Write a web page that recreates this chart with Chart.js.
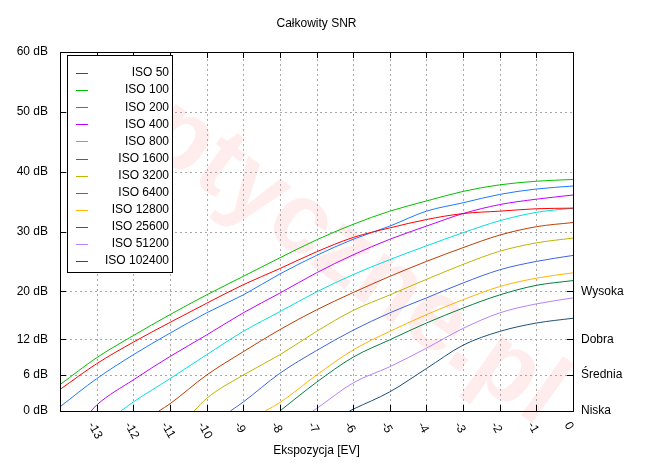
<!DOCTYPE html>
<html><head><meta charset="utf-8">
<script src="https://cdn.jsdelivr.net/npm/chart.js@4"></script>
<style>html,body{margin:0;padding:0;background:#fff}#w{width:670px;height:463px}</style>
</head><body><div id="w"><canvas id="c"></canvas></div>
<script>
const xs = [-14,-13,-12,-11,-10,-9,-8,-7,-6,-5,-4,-3,-2,-1,0];
const labels = ['ISO 50','ISO 100','ISO 200','ISO 400','ISO 800','ISO 1600','ISO 3200','ISO 6400','ISO 12800','ISO 25600','ISO 51200','ISO 102400'];
const colors = ['#ff0000','#00c000','#1e78ff','#c000ff','#00e0e0','#c03c00','#c0b400','#3c64e6','#ffb400','#008040','#b482ff','#1e5078'];
const starts = [null,null,null,-13.15,-12.34,-11.3,-10.34,-9.35,-8.4,-8.0,-7.1,-6.1];
const iso50    = [3.6,7.9,11.5,14.8,18.0,21.1,23.8,26.6,29.0,30.6,32.0,33.0,33.4,33.8,33.9];
const iso100   = [4.4,8.9,12.6,16.1,19.4,22.5,25.6,28.6,31.2,33.4,35.1,36.7,37.8,38.4,38.7];
const iso200   = [0.7,5.4,9.4,13.0,16.4,19.4,22.9,26.0,28.7,30.9,33.4,34.8,36.2,37.1,37.6];
const iso400   = [null,1.0,5.2,9.1,12.7,16.4,19.7,23.1,26.1,28.7,30.9,33.0,34.5,35.4,36.1];
const iso800   = [null,null,1.5,5.4,9.4,13.3,16.6,19.9,22.8,25.3,27.6,29.8,31.8,33.2,33.9];
const iso1600  = [null,null,null,1.2,6.0,9.9,13.6,16.9,19.8,22.5,25.0,27.3,29.4,30.8,31.5];
const iso3200  = [null,null,null,null,2.1,6.0,9.4,13.3,16.8,19.4,22.0,24.5,26.7,28.1,28.9];
const iso6400  = [null,null,null,null,null,1.5,6.3,10.1,13.5,16.4,18.9,21.4,23.6,25.0,26.0];
const iso12800 = [null,null,null,null,null,null,1.4,6.0,10.2,13.3,16.1,18.6,20.8,22.2,23.1];
const iso25600 = [null,null,null,null,null,null,0.0,4.8,9.0,11.9,14.7,17.2,19.4,21.0,21.8];
const iso51200 = [null,null,null,null,null,null,null,0.4,4.7,7.4,10.5,13.8,16.4,17.9,18.9];
const iso102400= [null,null,null,null,null,null,null,null,0.3,3.2,7.1,11.0,13.3,14.7,15.5];
const series = [iso50,iso100,iso200,iso400,iso800,iso1600,iso3200,iso6400,iso12800,iso25600,iso51200,iso102400];
const yTicks = [0,6,12,20,30,40,50,60];
const rightTicks = {0:'Niska',6:'Średnia',12:'Dobra',20:'Wysoka'};
const xTicks = [-13,-12,-11,-10,-9,-8,-7,-6,-5,-4,-3,-2,-1,0];
const FONT = '"Liberation Sans", Arial, sans-serif';

const datasets = series.map((vals,i)=>{
  const pts = [];
  if (starts[i] !== null) pts.push({x:starts[i], y:0});
  vals.forEach((v,j)=>{ if (v!==null && !(starts[i]!==null && xs[j]<=starts[i])) pts.push({x:xs[j], y:v}); });
  return {label:labels[i], data:pts, borderColor:colors[i], borderWidth:1, pointRadius:0, cubicInterpolationMode:'monotone', fill:false};
});

const deco = {
  id:'deco',
  beforeDatasetsDraw(ch){
    const c=ch.ctx, a=ch.chartArea, x=ch.scales.x, y=ch.scales.y;
    c.save(); c.translate(330,245); c.rotate(0.62);
    c.font='bold 100px '+FONT; c.fillStyle='rgba(255,0,0,0.07)'; c.textAlign='center'; c.textBaseline='middle';
    c.fillText('optyczne.pl',0,0); c.restore();
    c.save(); c.strokeStyle='#a8a8a8'; c.lineWidth=1; c.setLineDash([2,3]);
    c.beginPath();
    xTicks.forEach(t=>{const p=Math.round(x.getPixelForValue(t))+0.5; c.moveTo(p,a.bottom); c.lineTo(p,a.top);});
    yTicks.forEach(t=>{const p=Math.round(y.getPixelForValue(t))+0.5; c.moveTo(a.left,p); c.lineTo(a.right,p);});
    c.stroke(); c.restore();
  },
  afterDraw(ch){
    const c=ch.ctx, a=ch.chartArea, x=ch.scales.x, y=ch.scales.y;
    c.save();
    c.strokeStyle='#000'; c.lineWidth=1;
    c.strokeRect(Math.round(a.left)+0.5,Math.round(a.top)+0.5,Math.round(a.right-a.left),Math.round(a.bottom-a.top));
    c.beginPath();
    xTicks.forEach(t=>{const p=Math.round(x.getPixelForValue(t))+0.5; c.moveTo(p,a.bottom); c.lineTo(p,a.bottom-6); c.moveTo(p,a.top); c.lineTo(p,a.top+6);});
    yTicks.forEach(t=>{const p=Math.round(y.getPixelForValue(t))+0.5; c.moveTo(a.left,p); c.lineTo(a.left+6,p);});
    [0,6,12,20].forEach(t=>{const p=Math.round(y.getPixelForValue(t))+0.5; c.moveTo(a.right,p); c.lineTo(a.right-6,p);});
    c.stroke();
    c.fillStyle='#000'; c.font='12px '+FONT;
    c.textAlign='right'; c.textBaseline='middle';
    yTicks.forEach(t=>c.fillText(t+' dB', a.left-12, y.getPixelForValue(t)));
    c.textAlign='left';
    [0,6,12,20].forEach(t=>c.fillText(rightTicks[t], a.right+8, y.getPixelForValue(t)));
    xTicks.forEach(t=>{const p=x.getPixelForValue(t); c.save(); c.translate(p-6,a.bottom+12); c.rotate(Math.PI/3); c.textAlign='left'; c.textBaseline='middle'; c.fillText(String(t),0,0); c.restore();});
    c.textAlign='center'; c.textBaseline='middle';
    c.fillText('Całkowity SNR', (a.left+a.right)/2, 24);
    c.fillText('Ekspozycja [EV]', (a.left+a.right)/2, 451);
    const lx=67, ly=55, lw=105, lh=217;
    c.fillStyle='#fff'; c.fillRect(lx,ly,lw,lh);
    c.strokeStyle='#000'; c.strokeRect(lx+0.5,ly+0.5,lw,lh);
    labels.forEach((l,i)=>{const yy=ly+18+i*17.1; c.fillStyle=colors[i]; c.fillRect(lx+9,Math.round(yy),12,1); c.fillStyle='#000'; c.textAlign='right'; c.fillText(l,lx+102,yy);});
    c.restore();
  }
};

new Chart(document.getElementById('c'),{
  type:'line',
  data:{datasets},
  options:{
    responsive:true, maintainAspectRatio:false, animation:false,
    layout:{padding:{top:52,left:60,right:97,bottom:52}},
    plugins:{legend:{display:false},title:{display:false},tooltip:{enabled:false}},
    scales:{
      x:{type:'linear',min:-14,max:0,afterBuildTicks(s){s.ticks=xTicks.map(v=>({value:v}));},
        ticks:{display:false},border:{display:false},grid:{display:false},
        afterFit(s){s.height=0;}},
      y:{type:'linear',min:0,max:60,afterBuildTicks(s){s.ticks=yTicks.map(v=>({value:v}));},
        ticks:{display:false},border:{display:false},grid:{display:false},
        afterFit(s){s.width=0;}}
    }
  },
  plugins:[deco]
});
</script></body></html>
